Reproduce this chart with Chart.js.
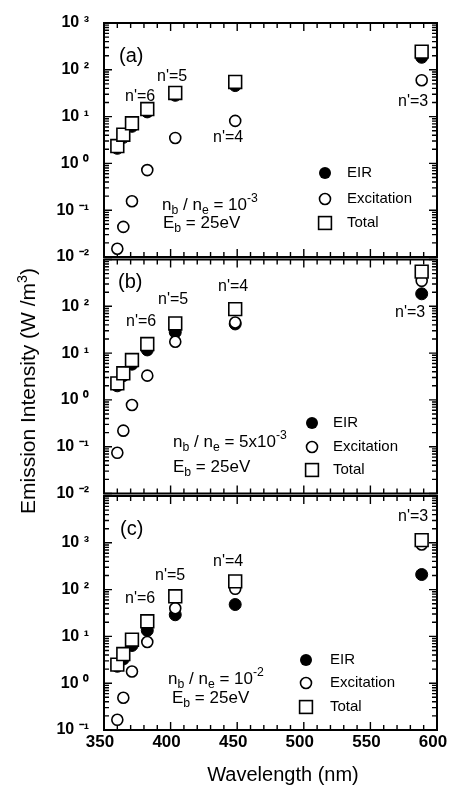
<!DOCTYPE html>
<html>
<head>
<meta charset="utf-8">
<script src="https://cdn.jsdelivr.net/npm/chart.js@4.4.0/dist/chart.umd.min.js"></script>
<style>
  html, body { margin: 0; padding: 0; background: #fff; }
  #wrap { position: relative; width: 449px; height: 787px; overflow: hidden; font-family: "Liberation Sans", Arial, Helvetica, sans-serif; }
  #wrap canvas { position: absolute; left: 0; top: 0; }
  .ytitle { position: absolute; left: 28px; top: 391px; transform: translate(-50%, -50%) rotate(-90deg); white-space: nowrap; font-size: 21px; color: #000; }
  .ytitle sup { font-size: 0.68em; vertical-align: 0.55em; line-height: 0; }
  .xtitle { position: absolute; left: 283px; top: 774px; transform: translate(-50%, -50%); white-space: nowrap; font-size: 20px; color: #000; }
</style>
</head>
<body>
<div id="wrap">
  <canvas id="panelA" width="449" height="787"></canvas>
  <canvas id="panelB" width="449" height="787"></canvas>
  <canvas id="panelC" width="449" height="787"></canvas>
  <div class="ytitle">Emission Intensity (W /m<sup>3</sup>)</div>
  <div class="xtitle">Wavelength (nm)</div>
</div>
<script>
// He I lines, n' = 9 ... 3 (nm)
const wavelengths = [360, 364.5, 371, 382.5, 403.5, 448.5, 588.5];
const upperLevels = ["n'=9", "n'=8", "n'=7", "n'=6", "n'=5", "n'=4", "n'=3"];

// (a) nb/ne = 1e-3
const eirA = [2.1, 3.6, 6.2, 12.6, 28.5, 46, 185];
const excA = [0.015, 0.044, 0.155, 0.72, 3.5, 8.1, 60];
const totA = [2.35, 4.1, 7.2, 14.5, 32, 55, 245];

// (b) nb/ne = 5e-3
const eirB = [2.0, 3.3, 5.8, 11.7, 28, 42, 185];
const excB = [0.074, 0.22, 0.78, 3.3, 17.5, 45, 350];
const totB = [2.25, 3.7, 7.1, 15.6, 43, 87, 550];

// (c) nb/ne = 1e-2
const eirC = [2.3, 3.3, 6.4, 13.4, 29, 48, 210];
const excC = [0.165, 0.49, 1.78, 7.6, 40, 104, 920];
const totC = [2.5, 4.2, 8.5, 21, 72, 150, 1140];

const xTicks = [350, 400, 450, 500, 550, 600];
const yExpA = [-2, -1, 0, 1, 2, 3];
const yExpB = [-2, -1, 0, 1, 2];
const yExpC = [-1, 0, 1, 2, 3];

const FONT = '"Liberation Sans", Arial, Helvetica, sans-serif';
Chart.defaults.font.family = FONT;
Chart.defaults.color = '#000';

const SUP = { '-': '\u207B', '0': '\u2070', '1': '\u00B9', '2': '\u00B2', '3': '\u00B3', '4': '\u2074' };
function powLabel(e) {
  return '10 ' + String(e).split('').map(c => SUP[c]).join('');
}

const markStyle = {
  eir: { r: 6 },
  exc: { r: 5.5, w: 1.6 },
  tot: { half: 6.4, w: 1.6 }
};

function makeDatasets(eir, exc, tot) {
  const pts = vals => wavelengths.map((w, i) => ({ x: w, y: vals[i] }));
  return [
    { label: 'EIR', data: pts(eir), pointStyle: 'circle', pointRadius: markStyle.eir.r,
      backgroundColor: '#000', borderColor: '#000', borderWidth: 1, order: 3, clip: false },
    { label: 'Excitation', data: pts(exc), pointStyle: 'circle', pointRadius: markStyle.exc.r,
      backgroundColor: '#fff', borderColor: '#000', borderWidth: markStyle.exc.w, order: 2, clip: false },
    { label: 'Total', data: pts(tot), pointStyle: 'rect', pointRadius: markStyle.tot.half / Math.SQRT1_2,
      backgroundColor: '#fff', borderColor: '#000', borderWidth: markStyle.tot.w, order: 1, clip: false }
  ];
}

// frame + inward ticks on all four sides
const framePlugin = {
  id: 'frame',
  beforeDatasetsDraw(chart) {
    const { ctx, chartArea: a, scales: { x, y } } = chart;
    ctx.save();
    ctx.strokeStyle = '#000';
    ctx.lineWidth = 2;
    ctx.strokeRect(a.left, a.top, a.right - a.left, a.bottom - a.top);
    ctx.lineWidth = 1.4;
    ctx.beginPath();
    for (let v = x.min; v <= x.max; v += 10) {
      const px = x.getPixelForValue(v);
      const len = v % 50 === 0 ? 8 : 5;
      ctx.moveTo(px, a.bottom); ctx.lineTo(px, a.bottom - len);
      ctx.moveTo(px, a.top); ctx.lineTo(px, a.top + len);
    }
    const lo = Math.round(Math.log10(y.min)), hi = Math.round(Math.log10(y.max));
    for (let e = lo; e <= hi; e++) {
      for (let d = 1; d <= 9; d++) {
        const v = d * Math.pow(10, e);
        if (v > y.max * 1.0001) break;
        const py = y.getPixelForValue(v);
        const len = d === 1 ? 8 : 5;
        ctx.moveTo(a.left, py); ctx.lineTo(a.left + len, py);
        ctx.moveTo(a.right, py); ctx.lineTo(a.right - len, py);
      }
    }
    ctx.stroke();
    ctx.restore();
  }
};

function drawRuns(ctx, runs, x, y, size) {
  let cx = x;
  runs.forEach(([t, kind]) => {
    const s = kind ? size * 0.72 : size;
    const dy = kind === 1 ? size * 0.32 : kind === 2 ? -size * 0.38 : 0;
    ctx.font = s + 'px ' + FONT;
    ctx.fillText(t, cx, y + dy);
    cx += ctx.measureText(t).width;
  });
}

function notesPlugin(notes, legend) {
  return {
    id: 'notes',
    afterDraw(chart) {
      const ctx = chart.ctx;
      ctx.save();
      ctx.fillStyle = '#000';
      ctx.textBaseline = 'middle';
      ctx.textAlign = 'left';
      notes.forEach(n => drawRuns(ctx, n.runs, n.x, n.y, n.size));
      // legend
      const [mx, tx, ys] = legend;
      ctx.strokeStyle = '#000';
      ctx.beginPath();
      ctx.arc(mx, ys[0], markStyle.eir.r, 0, Math.PI * 2);
      ctx.fill();
      ctx.lineWidth = markStyle.exc.w;
      ctx.beginPath();
      ctx.arc(mx, ys[1], markStyle.exc.r, 0, Math.PI * 2);
      ctx.stroke();
      ctx.lineWidth = markStyle.tot.w;
      const h = markStyle.tot.half;
      ctx.strokeRect(mx - h, ys[2] - h, 2 * h, 2 * h);
      ctx.font = '15px ' + FONT;
      ['EIR', 'Excitation', 'Total'].forEach((t, i) => ctx.fillText(t, tx, ys[i]));
      ctx.restore();
    }
  };
}

function makePanel(id, p) {
  new Chart(document.getElementById(id), {
    type: 'scatter',
    data: { datasets: makeDatasets(p.eir, p.exc, p.tot) },
    options: {
      responsive: false,
      animation: false,
      events: [],
      layout: { padding: { left: 0, right: 12, top: p.top, bottom: p.bottom } },
      plugins: { legend: { display: false }, tooltip: { enabled: false } },
      scales: {
        x: {
          type: 'linear', min: 350, max: 600, display: p.showX,
          grid: { display: false, drawTicks: false }, border: { display: false },
          afterBuildTicks: s => { s.ticks = xTicks.map(v => ({ value: v })); },
          afterFit: s => {
            s.height = p.showX ? 40 : 0;
            s.paddingLeft = 0; s.paddingRight = 0;
          },
          ticks: { font: { size: 17, weight: 'bold' }, padding: 2, labelOffset: -4, maxRotation: 0, autoSkip: false }
        },
        y: {
          type: 'logarithmic', min: p.ymin, max: p.ymax,
          grid: { display: false, drawTicks: false }, border: { display: false },
          afterBuildTicks: s => { s.ticks = p.exps.map(e => ({ value: Math.pow(10, e) })); },
          afterFit: s => { s.width = 104; s.paddingTop = 0; s.paddingBottom = 0; },
          ticks: {
            font: { size: 16, weight: 'bold' }, padding: 15, autoSkip: false,
            callback: v => powLabel(Math.round(Math.log10(v)))
          }
        }
      }
    },
    plugins: [framePlugin, notesPlugin(p.notes, p.legend)]
  });
}

const nlab = (i, x, y) => ({ runs: [[upperLevels[i], 0]], x, y, size: 16 });

makePanel('panelA', {
  eir: eirA, exc: excA, tot: totA, ymin: 0.01, ymax: 1000, exps: yExpA,
  top: 23, bottom: 530, showX: false,
  notes: [
    { runs: [['(a)', 0]], x: 119, y: 56, size: 20 },
    nlab(3, 125, 97), nlab(4, 157, 77), nlab(5, 213, 138), nlab(6, 398, 102),
    { runs: [['n', 0], ['b', 1], [' / n', 0], ['e', 1], [' = 10', 0], ['-3', 2]], x: 162, y: 205, size: 17 },
    { runs: [['E', 0], ['b', 1], [' = 25eV', 0]], x: 163, y: 223, size: 17 }
  ],
  legend: [325, 347, [173, 199, 223]]
});

makePanel('panelB', {
  eir: eirB, exc: excB, tot: totB, ymin: 0.01, ymax: 1000, exps: yExpB,
  top: 259.5, bottom: 293.5, showX: false,
  notes: [
    { runs: [['(b)', 0]], x: 118, y: 282, size: 20 },
    nlab(3, 126, 322), nlab(4, 158, 300), nlab(5, 218, 287), nlab(6, 395, 313),
    { runs: [['n', 0], ['b', 1], [' / n', 0], ['e', 1], [' = 5x10', 0], ['-3', 2]], x: 173, y: 442, size: 17 },
    { runs: [['E', 0], ['b', 1], [' = 25eV', 0]], x: 173, y: 467, size: 17 }
  ],
  legend: [312, 333, [423, 447, 470]]
});

makePanel('panelC', {
  eir: eirC, exc: excC, tot: totC, ymin: 0.1, ymax: 10000, exps: yExpC,
  top: 496, bottom: 17, showX: true,
  notes: [
    { runs: [['(c)', 0]], x: 120, y: 529, size: 20 },
    nlab(3, 125, 599), nlab(4, 155, 576), nlab(5, 213, 562), nlab(6, 398, 517),
    { runs: [['n', 0], ['b', 1], [' / n', 0], ['e', 1], [' = 10', 0], ['-2', 2]], x: 168, y: 679, size: 17 },
    { runs: [['E', 0], ['b', 1], [' = 25eV', 0]], x: 172, y: 698, size: 17 }
  ],
  legend: [306, 330, [660, 683, 707]]
});
</script>
</body>
</html>
